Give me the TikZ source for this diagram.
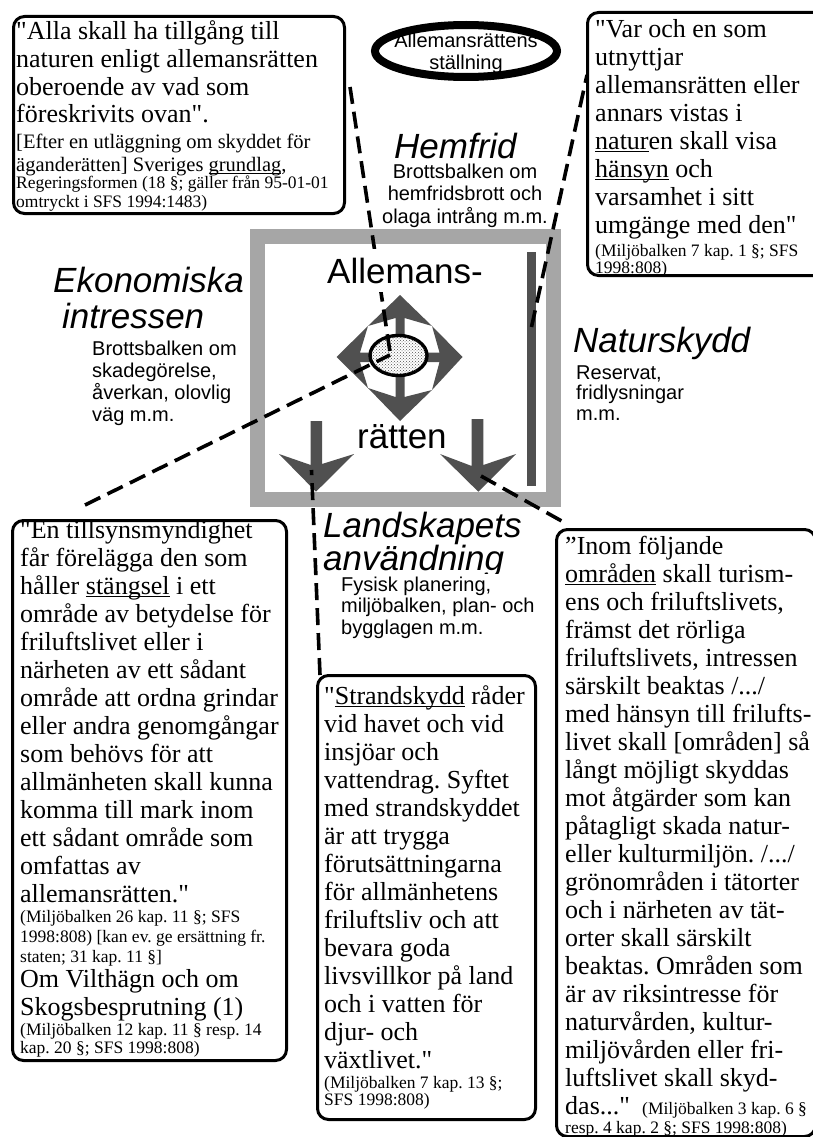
\documentclass[tikz,border=0pt]{standalone}
\usepackage{fontspec}
\setmainfont{Liberation Serif}
\newfontfamily\ser{Liberation Serif}
\newfontfamily\hv{Liberation Sans}
\usetikzlibrary{patterns,shapes.geometric}
\definecolor{framegray}{HTML}{A6A6A6}
\definecolor{darkgray}{HTML}{505050}
\newcommand{\fs}[2]{\frenchspacing\fontsize{#1}{#2}\selectfont}
\newsavebox{\ulbox}
\newcommand{\ul}[1]{\sbox{\ulbox}{#1}\rlap{\rule[-2.8pt]{\wd\ulbox}{1.1pt}}\usebox{\ulbox}}
\tikzset{
  x=1pt,y=-1pt,
  box/.style={draw=black,line width=3pt,rounded corners=11pt,fill=white,anchor=north west,inner sep=0pt},
  txt/.style={anchor=base west,inner sep=0pt,align=left},
  big/.style={txt,font=\ser\fs{26}{28}},
  mid/.style={txt,font=\ser\fs{20.5}{23}},
  sm/.style={txt,font=\ser\fs{17.5}{#1}},
  sm/.default=18,
  sans/.style={txt,font=\hv\fs{20}{#1}},
  sans/.default=22,
  head/.style={txt,font=\hv\itshape\fs{35}{37}},
  core/.style={anchor=base west,inner xsep=0pt,font=\hv\fs{35}{37}},
  dark/.style={fill=darkgray,draw=none},
  link/.style={draw=black,line width=3.6pt,dash pattern=on 17pt off 8pt},
}
\begin{document}
\begin{tikzpicture}
\useasboundingbox (0,0) rectangle (813,1137);
% frame
\node[draw=framegray,line width=15pt,minimum width=296pt,minimum height=263pt,anchor=north west,inner sep=0pt] (frame) at (250,229) {};
\node[dark,minimum width=9pt,minimum height=234pt,anchor=north west,inner sep=0pt] (bar) at (527,252) {};
% four-way arrow
\fill[darkgray] (400,295)--(432,326)--(404.5,318)--(404.5,352.5)--(439.5,352.5)--(432,326)--(462.5,357)--(432,390)--(439.5,362)--(404.5,362)--(404.5,397)--(432,390)--(400,421)--(368,388)--(395.5,397)--(395.5,362)--(360,362)--(368,388)--(336.5,357)--(368,326)--(360,352.5)--(395.5,352.5)--(395.5,318)--(368,326)--cycle;
\node[ellipse,draw=black,line width=3.4pt,fill=white,minimum width=57pt,minimum height=40pt,inner sep=0pt] (hub) at (398.5,355.5) {};
\node[ellipse,pattern=crosshatch dots,pattern color=darkgray,minimum width=55pt,minimum height=38pt,inner sep=0pt] (hubfill) at (398.5,355.5) {};
% down arrows
\fill[darkgray] (310.7,421)--(322,421)--(322,464)--(354,454)--(316,491.7)--(279,454)--(310.7,465)--cycle;
\fill[darkgray] (471.7,419)--(483.3,419)--(483.3,465)--(516,454)--(478.3,491.7)--(440,454)--(471.7,466)--cycle;
% link ends
\coordinate (a0) at (350,87);
\coordinate (a1) at (390,352);
\coordinate (b0) at (587,75);
\coordinate (b1) at (531.5,327);
\coordinate (c0) at (85,505);
\coordinate (c1) at (390,355);
\coordinate (d0) at (311.5,470);
\coordinate (d1) at (320,675);
\coordinate (e0) at (481,476);
\coordinate (e1) at (567,524);
\draw[link] (a0)--(a1);
\draw[link] (b1)--(b0);
\draw[link] (c0)--(c1);
\draw[link] (d1)--(d0);
\draw[link] (e0)--(e1);
% boxes
\node[box,minimum width=331pt,minimum height=197pt] (box1) at (12,15) {};
\node[box,minimum width=240pt,minimum height=263pt] (box2) at (586,11) {};
\node[box,minimum width=274pt,minimum height=540pt] (box3) at (11,519) {};
\node[box,minimum width=218pt,minimum height=444pt] (box4) at (316,674) {};
\node[box,minimum width=259pt,minimum height=607pt] (box5) at (555,528) {};
% title
\node[ellipse,draw=black,line width=8pt,minimum width=182pt,minimum height=52pt,inner sep=0pt] (title) at (466,51) {};
\node[anchor=base,align=center,inner sep=0pt,font=\hv\fs{20}{22}] (titletxt) at (466,70) {Allemansrättens\\ställning};
% core text
\node[core,fill=white,inner ysep=9pt] (allemans) at (327,283) {Allemans-};
\node[core,inner ysep=0pt] (ratten) at (357,448) {rätten};
% headings
\node[head] (hem) at (394,158) {Hemfrid};
\node[anchor=base,align=center,inner sep=0pt,font=\hv\fs{20}{22.5}] (hemtxt) at (465,223) {Brottsbalken om\\hemfridsbrott och\\olaga intrång m.m.};
\node[head] (eko1) at (53,292) {Ekonomiska};
\node[head] (eko2) at (62,328) {intressen};
\node[sans] (ekotxt) at (92,421) {Brottsbalken om\\skadegörelse,\\åverkan, olovlig\\väg m.m.};
\node[head] (nat) at (573,352) {Naturskydd};
\node[sans=20.5] (nattxt) at (576,420) {Reservat,\\fridlysningar\\m.m.};
\node[head] (land1) at (323,537) {Landskapets};
\node[head] (land2) at (323,570) {användning};
\node[sans=21.5,fill=white,inner ysep=3pt] (landtxt) at (341,634) {Fysisk planering,\\miljöbalken, plan- och\\bygglagen m.m.};
% box 1
\node[big,font=\ser\fs{26}{27.7}] (b1a) at (16,123) {"Alla skall ha tillgång till\\naturen enligt allemansrätten\\oberoende av vad som\\föreskrivits ovan".};
\node[mid] (b1b) at (16,171) {[Efter en utläggning om skyddet för\\äganderätten] Sveriges \ul{grundlag},};
\node[sm=19] (b1c) at (16,207) {Regeringsformen (18 §; gäller från 95-01-01\\omtryckt i SFS 1994:1483)};
% box 2
\node[big] (b2a) at (595,233) {"Var och en som\\utnyttjar\\allemansrätten eller\\annars vistas i\\\ul{natur}en skall visa\\\ul{hänsyn} och\\varsamhet i sitt\\umgänge med den"};
\node[sm=17] (b2b) at (595,273) {(Miljöbalken 7 kap. 1 §; SFS\\1998:808)};
% box 3
\node[big] (b3a) at (20,902) {"En tillsynsmyndighet\\får förelägga den som\\håller \ul{stängsel} i ett\\område av betydelse för\\friluftslivet eller i\\närheten av ett sådant\\område att ordna grindar\\eller andra genomgångar\\som behövs för att\\allmänheten skall kunna\\komma till mark inom\\ett sådant område som\\omfattas av\\allemansrätten."};
\node[sm=20] (b3b) at (20,962) {(Miljöbalken 26 kap. 11 §; SFS\\1998:808) [kan ev. ge ersättning fr.\\staten; 31 kap. 11 §]};
\node[big] (b3c) at (20,1015) {Om Vilthägn och om\\Skogsbesprutning (1)};
\node[sm=18] (b3d) at (20,1053) {(Miljöbalken 12 kap. 11 § resp. 14\\kap. 20 §; SFS 1998:808)};
% box 4
\node[big] (b4a) at (324,1068) {"\ul{Strandskydd} råder\\vid havet och vid\\insjöar och\\vattendrag. Syftet\\med strandskyddet\\är att trygga\\förutsättningarna\\för allmänhetens\\friluftsliv och att\\bevara goda\\livsvillkor på land\\och i vatten för\\djur- och\\växtlivet."};
\node[sm=17] (b4b) at (324,1105) {(Miljöbalken 7 kap. 13 §;\\SFS 1998:808)};
% box 5
\node[big] (b5a) at (565,1114) {”Inom följande\\\ul{områden} skall turism-\\ens och friluftslivets,\\främst det rörliga\\friluftslivets, intressen\\särskilt beaktas /.../\\med hänsyn till frilufts-\\livet skall [områden] så\\långt möjligt skyddas\\mot åtgärder som kan\\påtagligt skada natur-\\eller kulturmiljön. /.../\\grönområden i tätorter\\och i närheten av tät-\\orter skall särskilt\\beaktas. Områden som\\är av riksintresse för\\naturvården, kultur-\\miljövården eller fri-\\luftslivet skall skyd-\\das..."};
\node[sm] (b5b) at (642,1114) {(Miljöbalken 3 kap. 6 §};
\node[sm] (b5c) at (565,1133) {resp. 4 kap. 2 §; SFS 1998:808)};
\end{tikzpicture}
\end{document}
